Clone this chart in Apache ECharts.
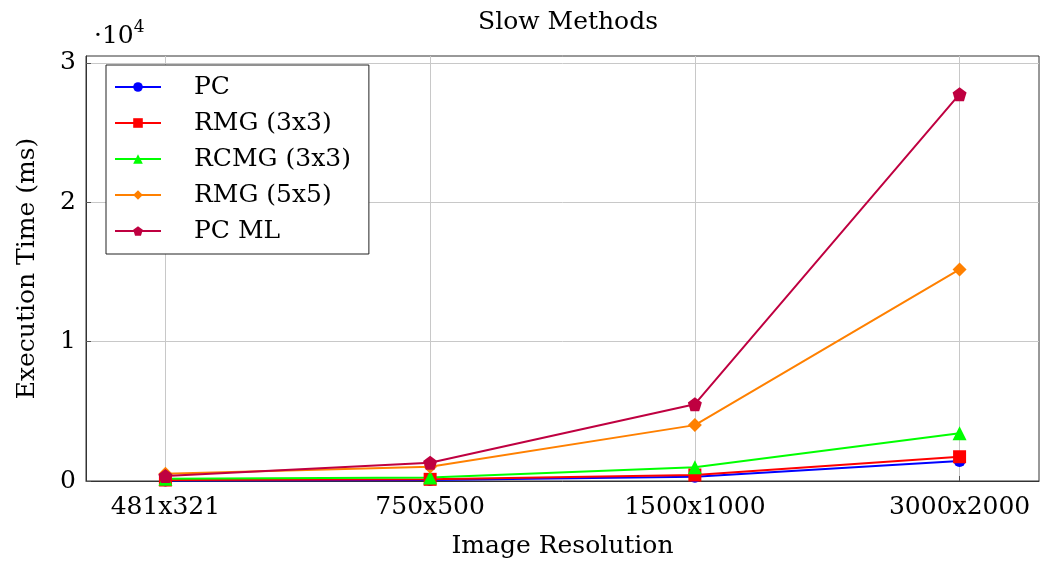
<!DOCTYPE html>
<html>
<head>
<meta charset="utf-8">
<script src="https://cdn.jsdelivr.net/npm/echarts@6/dist/echarts.min.js"></script>
<style>
  html, body { margin: 0; padding: 0; background: #fff; }
  #main { width: 1040px; height: 565px; }
</style>
</head>
<body>
<div id="main"></div>
<script>
// image resolutions on the x axis
const resolutions = ['481x321', '750x500', '1500x1000', '3000x2000'];
// execution time in ms
const pc = [40, 70, 310, 1430];
const rmg3 = [70, 120, 430, 1740];
const rcmg3 = [170, 260, 980, 3430];
const rmg5 = [520, 1020, 4010, 15180];
const pcMl = [360, 1310, 5510, 27760];
const yTicks = [0, 10000, 20000, 30000];

const FONT = 'DejaVu Serif';
const pentagon = 'path://M0,-1 L0.951,-0.309 L0.588,0.809 L-0.588,0.809 L-0.951,-0.309 Z';

const chart = echarts.init(document.getElementById('main'));

function line(name, values, color, symbol, size) {
    return {
        name: name,
        type: 'line',
        data: values.map((v, i) => [i, v]),
        symbol: symbol,
        symbolSize: size,
        lineStyle: { color: color, width: 2 },
        itemStyle: { color: color },
        animation: false
    };
}

const option = {
    animation: false,
    title: {
        text: 'Slow Methods',
        left: 563,
        textAlign: 'center',
        top: 5,
        textStyle: { fontFamily: FONT, fontSize: 25, fontWeight: 'normal', color: '#000' }
    },
    graphic: [{
        type: 'text',
        left: 94,
        top: 19,
        style: {
            text: '{a|·10}{b|4}',
            rich: {
                a: { fontFamily: FONT, fontSize: 25, fill: '#000', verticalAlign: 'bottom', lineHeight: 30 },
                b: { fontFamily: FONT, fontSize: 17, fill: '#000', verticalAlign: 'top', lineHeight: 30, padding: [0, 0, 18, 0] }
            }
        }
    }],
    legend: {
        left: 106,
        top: 65,
        orient: 'vertical',
        backgroundColor: '#fff',
        borderColor: '#222',
        borderWidth: 1,
        borderRadius: 0,
        padding: [7, 18, 8, 8],
        itemWidth: 46,
        itemHeight: 12,
        itemGap: 6,
        textStyle: { fontFamily: FONT, fontSize: 25, color: '#000', lineHeight: 30, padding: [0, 0, 0, 28] }
    },
    grid: {
        left: 86,
        right: 1,
        top: 56,
        bottom: 84,
        show: true,
        borderColor: '#333',
        borderWidth: 1
    },
    xAxis: {
        type: 'value',
        min: -0.3,
        max: 3.3,
        name: 'Image Resolution',
        nameLocation: 'middle',
        nameGap: 53,
        nameTextStyle: { fontFamily: FONT, fontSize: 25, color: '#000' },
        axisLine: { show: true, onZero: false, lineStyle: { color: '#333' } },
        axisTick: { show: true, inside: true, length: 5, customValues: [0, 1, 2, 3], lineStyle: { color: '#555' } },
        axisLabel: {
            customValues: [0, 1, 2, 3],
            formatter: v => resolutions[Math.round(v)],
            fontFamily: FONT, fontSize: 25, color: '#000', margin: 14
        },
        splitLine: { show: true, lineStyle: { color: '#c8c8c8' } }
    },
    yAxis: {
        type: 'value',
        min: 0,
        max: 30500,
        name: 'Execution Time (ms)',
        nameLocation: 'middle',
        nameGap: 46,
        nameTextStyle: { fontFamily: FONT, fontSize: 25, color: '#000' },
        axisLine: { show: true, onZero: false, lineStyle: { color: '#333' } },
        axisTick: { show: true, inside: true, length: 5, customValues: yTicks, lineStyle: { color: '#555' } },
        axisLabel: {
            customValues: yTicks,
            formatter: v => String(v / 10000),
            fontFamily: FONT, fontSize: 25, color: '#000', margin: 10
        },
        splitLine: { show: true, lineStyle: { color: '#c8c8c8' } }
    },
    series: [
        line('PC', pc, '#0000ff', 'circle', 12),
        line('RMG (3x3)', rmg3, '#ff0000', 'rect', 13),
        line('RCMG (3x3)', rcmg3, '#00ff00', 'triangle', 14),
        line('RMG (5x5)', rmg5, '#ff8000', 'diamond', 14),
        line('PC ML', pcMl, '#bf0040', pentagon, 14)
    ]
};
chart.setOption(option);
</script>
</body>
</html>
